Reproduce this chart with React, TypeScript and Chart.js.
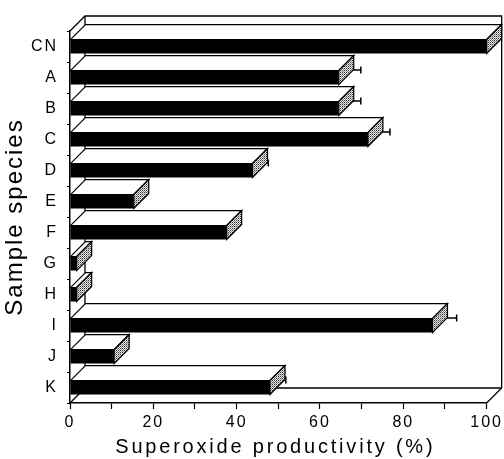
import React, { useEffect, useRef } from 'react';
import { Chart, registerables } from 'chart.js';

Chart.register(...registerables);

const categories = ['CN', 'A', 'B', 'C', 'D', 'E', 'F', 'G', 'H', 'I', 'J', 'K'];
const productivity = [100, 64.5, 64.5, 71.5, 43.8, 15.3, 37.6, 1.6, 1.6, 87, 10.6, 48];
const errors = [0, 3.5, 3.5, 3.5, 2, 0, 0, 0, 0, 4, 0, 2];
const xTicks = [0, 20, 40, 60, 80, 100];
const xTitle = 'Superoxide productivity (%)';
const yTitle = 'Sample species';

const DX = 15;
const DY = 15;
const FONT = '"Liberation Sans", Arial, Helvetica, sans-serif';

function makeHatch(ctx: CanvasRenderingContext2D) {
  const c = document.createElement('canvas');
  c.width = 2;
  c.height = 2;
  const g = c.getContext('2d')!;
  g.fillStyle = '#e8e8e8';
  g.fillRect(0, 0, 2, 2);
  g.fillStyle = '#333';
  g.fillRect(0, 0, 1, 1);
  g.fillStyle = '#8a8a8a';
  g.fillRect(1, 1, 1, 1);
  return ctx.createPattern(c, 'repeat');
}

const threeD = {
  id: 'threeD',
  beforeDraw(chart: any) {
    chart.ctx.letterSpacing = '2px';
  },
  beforeDatasetsDraw(chart: any) {
    const { ctx, chartArea } = chart;
    const { left, right, top, bottom } = chartArea;
    ctx.save();
    ctx.strokeStyle = '#000';
    ctx.lineWidth = 1.3;
    ctx.beginPath();
    ctx.moveTo(left, top);
    ctx.lineTo(left + DX, top - DY);
    ctx.lineTo(right + DX, top - DY);
    ctx.lineTo(right + DX, bottom - DY);
    ctx.lineTo(right, bottom);
    ctx.moveTo(left, bottom);
    ctx.lineTo(left + DX, bottom - DY);
    ctx.lineTo(right + DX, bottom - DY);
    ctx.moveTo(left + DX, top - DY);
    ctx.lineTo(left + DX, bottom - DY);
    ctx.stroke();
    ctx.restore();
  },
  afterDatasetsDraw(chart: any) {
    const { ctx } = chart;
    const meta = chart.getDatasetMeta(0);
    const xs = chart.scales.x;
    const hatch = makeHatch(ctx);
    ctx.save();
    ctx.strokeStyle = '#000';
    ctx.lineWidth = 1.2;
    ctx.lineJoin = 'miter';
    meta.data.forEach((bar: any, i: number) => {
      const { x, y, base, height } = bar.getProps(['x', 'y', 'base', 'height'], true);
      const yt = y - height / 2;
      const yb = y + height / 2;
      // top face
      ctx.beginPath();
      ctx.moveTo(base, yt);
      ctx.lineTo(x, yt);
      ctx.lineTo(x + DX, yt - DY);
      ctx.lineTo(base + DX, yt - DY);
      ctx.closePath();
      ctx.fillStyle = '#fff';
      ctx.fill();
      ctx.stroke();
      // error bar
      const e = errors[i];
      if (e > 0) {
        const xe = xs.getPixelForValue(productivity[i] + e) + DX / 2;
        const ye = y - DY / 2;
        ctx.beginPath();
        ctx.moveTo(x + DX / 2, ye);
        ctx.lineTo(xe, ye);
        ctx.moveTo(xe, ye - 3.5);
        ctx.lineTo(xe, ye + 3.5);
        ctx.lineWidth = 1.5;
        ctx.stroke();
        ctx.lineWidth = 1.2;
      }
      // end face
      ctx.beginPath();
      ctx.moveTo(x, yt);
      ctx.lineTo(x + DX, yt - DY);
      ctx.lineTo(x + DX, yb - DY);
      ctx.lineTo(x, yb);
      ctx.closePath();
      ctx.fillStyle = hatch || '#888';
      ctx.fill();
      ctx.stroke();
    });
    ctx.restore();
  },
  afterDraw(chart: any) {
    const { ctx, chartArea } = chart;
    const { left, right, top, bottom } = chartArea;
    ctx.save();
    ctx.fillStyle = '#000';
    ctx.textAlign = 'center';
    ctx.textBaseline = 'alphabetic';
    ctx.letterSpacing = '2.8px';
    ctx.font = `20px ${FONT}`;
    ctx.fillText(xTitle, (left + right) / 2 - 3, 453);
    ctx.translate(22, (top + bottom) / 2);
    ctx.rotate(-Math.PI / 2);
    ctx.letterSpacing = '2px';
    ctx.font = `24px ${FONT}`;
    ctx.fillText(yTitle, 0, 0);
    ctx.restore();
  },
};

export default function App() {
  const ref = useRef<HTMLCanvasElement>(null);
  useEffect(() => {
    document.body.style.margin = '0';
    const chart = new Chart(ref.current!, {
      type: 'bar',
      data: {
        labels: categories,
        datasets: [
          {
            data: productivity,
            backgroundColor: '#000',
            borderWidth: 0,
            barPercentage: 0.45,
            categoryPercentage: 1,
          },
        ],
      },
      options: {
        indexAxis: 'y',
        animation: false,
        responsive: true,
        maintainAspectRatio: false,
        layout: { padding: { top: 31, right: 17, left: 0, bottom: 0 } },
        plugins: { legend: { display: false }, tooltip: { enabled: false } },
        scales: {
          x: {
            min: 0,
            max: 100,
            afterFit(scale: any) {
              scale.height = 56;
            },
            border: { display: true, color: '#000', width: 1.5 },
            grid: {
              display: true,
              drawOnChartArea: false,
              drawTicks: true,
              tickLength: 6,
              tickColor: '#000',
              tickWidth: 1.2,
            },
            ticks: {
              stepSize: 10,
              autoSkip: false,
              maxRotation: 0,
              padding: 4,
              color: '#000',
              font: { family: FONT, size: 16 },
              callback: (v: any) => (xTicks.includes(Number(v)) ? String(v) : ''),
            },
          },
          y: {
            afterFit(scale: any) {
              scale.width = 70;
            },
            border: { display: true, color: '#000', width: 1.5 },
            grid: {
              display: true,
              offset: true,
              drawOnChartArea: false,
              drawTicks: true,
              tickLength: 3,
              tickColor: '#000',
              tickWidth: 1.2,
            },
            ticks: {
              autoSkip: false,
              padding: 9,
              color: '#000',
              font: { family: FONT, size: 16 },
            },
          },
        },
      },
      plugins: [threeD],
    } as any);
    return () => chart.destroy();
  }, []);
  return (
    <div style={{ width: 504, height: 459, position: 'relative' }}>
      <canvas ref={ref} />
    </div>
  );
}
